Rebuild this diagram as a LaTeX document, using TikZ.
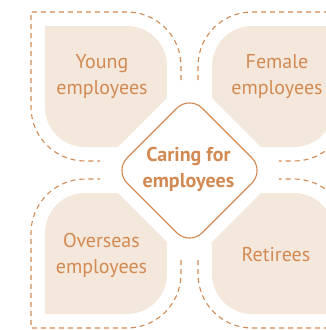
\documentclass[tikz,border=0pt]{standalone}
\usepackage{fontspec}
\setmainfont{PT Sans}

\definecolor{careline}{HTML}{D28A52}
\definecolor{carefill}{HTML}{F4E7DB}

\newcommand*{\xmin}{-189.5}
\newcommand*{\xmax}{136.5}
\newcommand*{\ymin}{-160}
\newcommand*{\ymax}{170}

\begin{document}
\begin{tikzpicture}
[
	x=1pt, y=1pt,
	quarter/.style={fill=carefill},
	outline/.style={draw=careline,line width=1.1pt,dash pattern=on 5pt off 4pt},
	hub/.style={draw=careline,fill=white,line width=1.1pt,rounded corners=18pt},
	grouptext/.style={text=careline,align=center,inner sep=0pt,font=\fontsize{20}{26}\selectfont},
	hubtext/.style={grouptext,font=\fontsize{20}{26}\selectfont\bfseries}
]

	% frame
	\useasboundingbox (\xmin,\ymin) rectangle (\xmax,\ymax);
	\clip (\xmin,\ymin) rectangle (\xmax,\ymax);

	% quarters
	\foreach \sx/\sy in {1/1,-1/1,-1/-1,1/-1}
	{
		\begin{scope}[xscale=\sx,yscale=\sy]
			\fill[quarter] (71.5,23) -- (104.5,23) arc[start angle=-90,end angle=0,radius=40]
				-- (144.5,144) -- (62.5,144) arc[start angle=90,end angle=180,radius=40]
				-- (22.5,72) -- cycle;
			\draw[outline] (8.5,90) -- (8.5,104) arc[start angle=180,end angle=90,radius=54]
				-- (158.5,158) -- (158.5,63) arc[start angle=0,end angle=-90,radius=54]
				-- (89.5,9);
		\end{scope}
	}

	% hub
	\draw[hub] (0,74.5) -- (75,-0.5) -- (0,-75.5) -- (-75,-0.5) -- cycle;

	\node[grouptext] (young) at (-87.5,93) {Young\\employees};
	\node[grouptext] (female) at (87.5,93) {Female\\employees};
	\node[grouptext] (overseas) at (-88,-85) {Overseas\\employees};
	\node[grouptext] (retirees) at (86.5,-85) {Retirees};
	\node[hubtext] (caring) at (-1,1) {Caring for\\employees};

\end{tikzpicture}
\end{document}
